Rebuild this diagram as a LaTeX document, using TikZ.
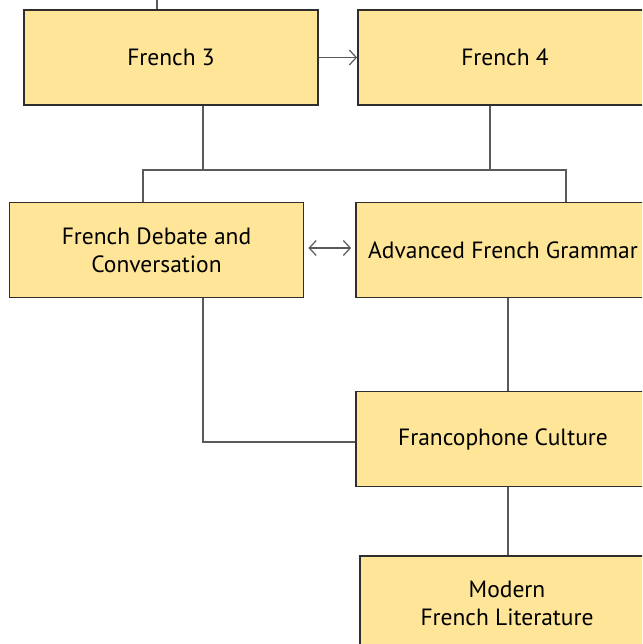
\documentclass[tikz,border=0pt]{standalone}
\usepackage{fontspec}
\setmainfont{PT Sans}
\usetikzlibrary{arrows.meta,calc}
\definecolor{boxfill}{HTML}{FEE597}
\definecolor{boxline}{HTML}{2E2E2E}
\definecolor{connline}{HTML}{5A5A5A}
\begin{document}
\begin{tikzpicture}[x=1pt,y=1pt,
  course/.style={draw=boxline,line width=1.8pt,fill=boxfill,minimum width=294pt,minimum height=95pt,inner sep=0pt,align=center,font=\fontsize{23.5}{28}\selectfont,text=black},
  conn/.style={draw=connline,line width=1.4pt},
  barb/.tip={Straight Barb[length=7pt,width=15pt,line width=1.2pt]}
]
\useasboundingbox (0,0) rectangle (642,-644);
\clip (0,0) rectangle (642,-644);
\node[course] (f3) at (171,-57.5) {\raisebox{-2pt}{French 3}};
\node[course] (f4) at (505,-57.5) {\raisebox{-2pt}{French 4}};
\node[course] (deb) at (156.5,-250) {French Debate and\\Conversation};
\node[course] (adv) at (503,-250) {Advanced French Grammar};
\node[course] (fr) at (503,-439) {\raisebox{-3pt}{Francophone Culture}};
\node[course] (ml) at (507,-603.5) {Modern\\French Literature};
\coordinate (top) at (157,0);
\coordinate (bar) at (354.5,-170);
\draw[conn] (top) -- (top |- f3.north);
\draw[conn,-barb] (f3.east) -- (f4.west);
\draw[conn] ([xshift=32pt]f3.south) -- ([xshift=32pt]f3.south |- bar);
\draw[conn] ([xshift=-15pt]f4.south) -- ([xshift=-15pt]f4.south |- bar);
\draw[conn] ([xshift=-13.5pt]deb.north) |- (bar) -| ([xshift=63pt]adv.north);
\draw[conn,barb-barb,shorten <=4pt,shorten >=4pt] ([yshift=2pt]deb.east) -- ([yshift=2pt]adv.west);
\draw[conn] ([xshift=46.5pt]deb.south) |- ([yshift=-3pt]fr.west);
\draw[conn] ([xshift=5pt]adv.south) -- ([xshift=5pt]fr.north);
\draw[conn] ([xshift=5pt]fr.south) -- ([xshift=5pt]fr.south |- ml.north);
\end{tikzpicture}
\end{document}
